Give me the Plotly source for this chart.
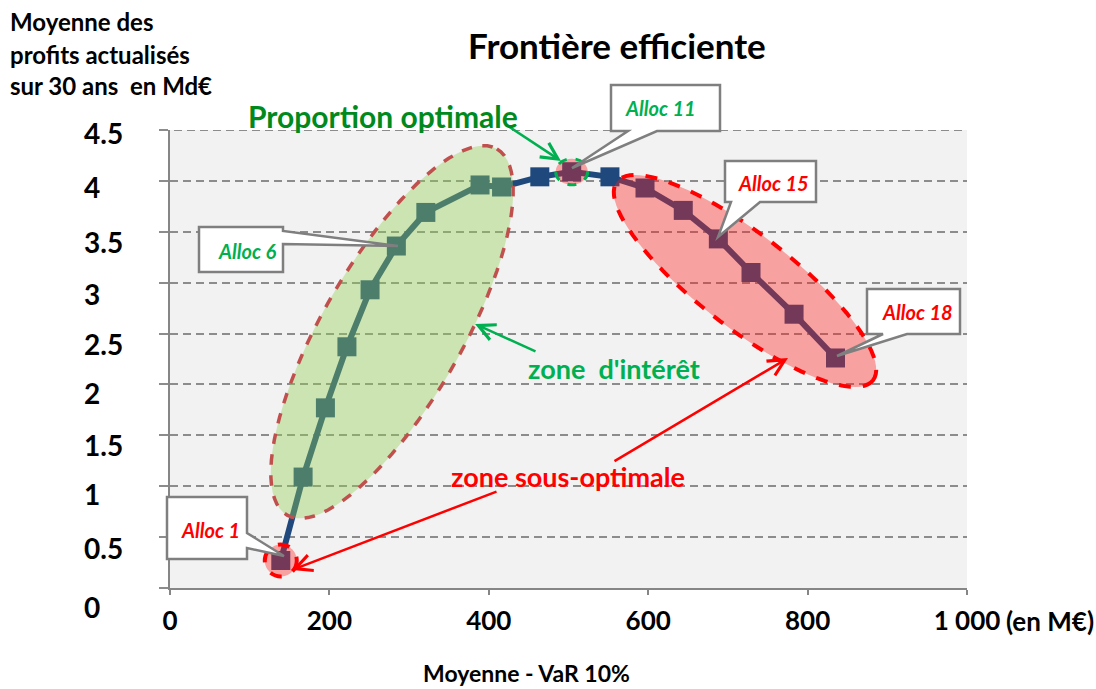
import numpy as np
import plotly.graph_objects as go

# ---------------- data ----------------
alloc_names = [f"Alloc {i}" for i in range(1, 19)]
var_mean = [139, 167, 195, 222, 251, 284, 321, 389, 416, 464, 504, 552,
            596, 644, 688, 729, 783, 835]          # Moyenne - VaR 10% (M€)
profit_mean = [0.27, 1.09, 1.77, 2.37, 2.93, 3.36, 3.69, 3.96, 3.94, 4.04,
               4.09, 4.04, 3.93, 3.71, 3.43, 3.10, 2.69, 2.26]  # Md€

x_ticks = [0, 200, 400, 600, 800, 1000]
x_ticktext = ["0", "200", "400", "600", "800", "1 000"]
y_ticks = [0, 0.5, 1, 1.5, 2, 2.5, 3, 3.5, 4, 4.5]
y_ticktext = ["0", "0.5", "1", "1.5", "2", "2.5", "3", "3.5", "4", "4.5"]
y_label_drop = [19, 11, 8, 10, 9, 10, 11, 10, 6, 3]   # label offset below gridline (px)

FONT = "Lato"
BLUE = "#1F497D"
GRAY = "#7F7F7F"
GREEN_T = "#00B050"
RED = "#FF0000"

# plot area geometry (pixels)
L, R, T, B = 170, 967, 130, 588
W, H = 1096, 689


def P(px, py):
    return (px - L) / (R - L), (B - py) / (B - T)


def ellipse_path(cx, cy, a, b, ang, n=90):
    t = np.radians(ang)
    u = np.array([np.cos(t), -np.sin(t)])
    v = np.array([np.sin(t), np.cos(t)])
    pts = []
    for phi in np.linspace(0, 2 * np.pi, n, endpoint=False):
        p = np.array([cx, cy]) + a * np.cos(phi) * u + b * np.sin(phi) * v
        pts.append(P(*p))
    return "M " + " L ".join(f"{x:.5f},{y:.5f}" for x, y in pts) + " Z"


def poly_path(points):
    pts = [P(*p) for p in points]
    return "M " + " L ".join(f"{x:.5f},{y:.5f}" for x, y in pts) + " Z"


fig = go.Figure()
fig.add_trace(go.Scatter(
    x=var_mean, y=profit_mean, mode="lines+markers",
    line=dict(color=BLUE, width=6),
    marker=dict(symbol="square", size=19, color=BLUE),
    text=alloc_names, hoverinfo="text+x+y", showlegend=False))

shapes = []
# top gridline (4.5) drawn explicitly so it shows at the plot edge
shapes.append(dict(type="line", xref="paper", yref="y", x0=-9 / (R - L), x1=1, y0=4.5, y1=4.5,
                   layer="below", line=dict(color="#8C8C8C", width=2, dash="8px,5px")))
# green zone ellipse
shapes.append(dict(type="path", xref="paper", yref="paper", layer="above",
                   path=ellipse_path(392, 332, 211, 70, 60.2),
                   fillcolor="rgba(146,208,80,0.4)",
                   line=dict(color="#C0504D", width=3.5, dash="dash")))
# red zone ellipse
shapes.append(dict(type="path", xref="paper", yref="paper", layer="above",
                   path=ellipse_path(745, 281, 162, 47, -37.8),
                   fillcolor="rgba(255,30,30,0.38)",
                   line=dict(color=RED, width=4, dash="dash")))
# circle around Alloc 1
shapes.append(dict(type="circle", xref="x", yref="y", layer="above",
                   xsizemode="pixel", ysizemode="pixel",
                   xanchor=var_mean[0], yanchor=profit_mean[0],
                   x0=-16, x1=16, y0=-16, y1=16,
                   fillcolor="rgba(255,30,30,0.38)",
                   line=dict(color=RED, width=4, dash="dash")))
# circle around Alloc 11
shapes.append(dict(type="circle", xref="x", yref="y", layer="above",
                   xsizemode="pixel", ysizemode="pixel",
                   xanchor=var_mean[10], yanchor=profit_mean[10],
                   x0=-16, x1=16, y0=-13, y1=13,
                   fillcolor="rgba(255,30,30,0.38)",
                   line=dict(color=GREEN_T, width=3, dash="dash")))

# callouts (box + wedge)
callouts = [
    ("Alloc 6", GREEN_T, (247, 251),
     [(199, 227), (283, 227), (283, 231), (398, 246), (283, 244), (283, 272), (199, 272)]),
    ("Alloc 1", RED, (210, 530),
     [(167, 497), (247, 497), (247, 533), (284, 556), (247, 548), (247, 559), (167, 559)]),
    ("Alloc 11", GREEN_T, (660, 108),
     [(611, 85), (720, 85), (720, 131), (657, 131), (572, 168), (628, 131), (611, 131)]),
    ("Alloc 15", RED, (773, 183),
     [(725, 161), (816, 161), (816, 202), (760, 202), (718, 237), (731, 202), (725, 202)]),
    ("Alloc 18", RED, (917, 312),
     [(867, 289), (960, 289), (960, 334), (907, 334), (837, 356), (883, 334), (867, 334)]),
]
annotations = []
for txt, col, (tx, ty), pts in callouts:
    shapes.append(dict(type="path", xref="paper", yref="paper", layer="above",
                       path=poly_path(pts), fillcolor="white",
                       line=dict(color=GRAY, width=2.5)))
    x, y = P(tx, ty)
    annotations.append(dict(xref="paper", yref="paper", x=x, y=y, text=f"<b><i>{txt}</i></b>",
                            showarrow=False, font=dict(family=FONT, size=20, color=col),
                            xanchor="center", yanchor="middle"))


def arrow(tail, head, color):
    x, y = P(*head)
    annotations.append(dict(xref="paper", yref="paper", x=x, y=y, text="",
                            showarrow=True, ax=tail[0] - head[0], ay=tail[1] - head[1],
                            axref="pixel", ayref="pixel",
                            arrowhead=5, arrowsize=1.3, arrowwidth=2.5,
                            arrowcolor=color, standoff=0, startstandoff=0))


arrow((505, 124), (561, 161), GREEN_T)
arrow((537, 352), (475, 324), GREEN_T)
arrow((498, 491), (292, 570), RED)
arrow((613, 462), (788, 358), RED)


def text(px, py, s, size, color, anchor="center"):
    x, y = P(px, py)
    annotations.append(dict(xref="paper", yref="paper", x=x, y=y, text=s, showarrow=False,
                            font=dict(family=FONT, size=size, color=color),
                            xanchor=anchor, yanchor="middle"))


text(383, 116, "<b>Proportion optimale</b>", 30, "#008A1E")
text(614, 368, "<b>zone  d'intérêt</b>", 27, GREEN_T)
text(568, 476, "<b>zone sous-optimale</b>", 27, RED)
text(617, 45, "<b>Frontière efficiente</b>", 35, "black")
text(8, 22, "<b>Moyenne des</b>", 24, "black", "left")
text(8, 54, "<b>profits actualisés</b>", 24, "black", "left")
text(8, 85, "<b>sur 30 ans  en Md€</b>", 24, "black", "left")
text(526, 673, "<b>Moyenne - VaR 10%</b>", 23, "black")
text(1004, 621, "<b>(en M€)</b>", 26, "black", "left")

# y tick labels, left aligned like the original
for v, t, d in zip(y_ticks, y_ticktext, y_label_drop):
    annotations.append(dict(xref="paper", yref="y", x=(82 - L) / (R - L), y=v,
                            yshift=-d, text=f"<b>{t}</b>", showarrow=False,
                            font=dict(family=FONT, size=28, color="black"),
                            xanchor="left", yanchor="middle"))

fig.update_layout(
    width=W, height=H,
    margin=dict(l=L, r=W - R, t=T, b=H - B, pad=0),
    paper_bgcolor="white", plot_bgcolor="#F2F2F2",
    font=dict(family=FONT, color="black"),
    shapes=shapes, annotations=annotations,
    xaxis=dict(range=[0, 1000], tickvals=x_ticks, ticktext=[f"<b>{t}</b>" for t in x_ticktext],
               tickfont=dict(family=FONT, size=26, color="black"), ticklabelstandoff=4,
               showgrid=False, zeroline=False, showline=True, linecolor="#868686", linewidth=2,
               ticks="outside", ticklen=5, tickcolor="#868686", tickwidth=1.5),
    yaxis=dict(range=[0, 4.5], tickvals=y_ticks, showticklabels=False,
               showgrid=True, gridcolor="#8C8C8C", gridwidth=2, griddash="8px,5px",
               zeroline=False, showline=True, linecolor="#868686", linewidth=2,
               ticks="outside", ticklen=9, tickcolor="#8C8C8C", tickwidth=2),
)

fig.write_html("out.html")
